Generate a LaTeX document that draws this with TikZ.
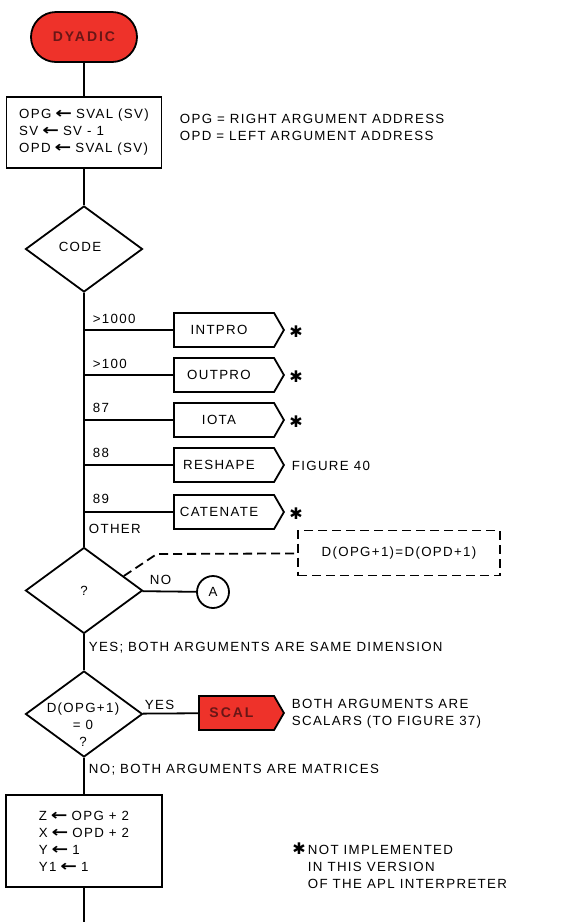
\documentclass[tikz,border=0pt]{standalone}
\usepackage{fontspec}
\usepackage{graphicx}
\setmainfont[LetterSpace=10]{Liberation Sans}
\newfontfamily\arrowfont{DejaVu Sans}
\usetikzlibrary{shapes.geometric,shapes.misc,shapes.symbols}
\definecolor{flagred}{RGB}{238,50,42}
\definecolor{inkred}{RGB}{105,22,22}
\newcommand{\asg}{\hspace{4pt}\scalebox{1.5}[1.15]{\arrowfont\bfseries ←}\hspace{4pt}}
\newcommand{\nimp}{{\arrowfont\fontsize{16}{16}\selectfont ✱}}

\begin{document}
\begin{tikzpicture}[x=1pt,y=-1pt,line width=1.8pt,
  every node/.style={font=\fontsize{13.3}{17}\selectfont,inner sep=0},
  term/.style={draw,rounded rectangle,fill=flagred,minimum width=106,minimum height=50},
  box/.style={draw,rectangle,align=left},
  decision/.style={draw,diamond,minimum width=117,minimum height=86},
  pent/.style={draw,signal,signal to=east,signal pointer angle=120,minimum width=110,minimum height=34,anchor=west,execute at begin node=\hspace*{-10pt}},
  redtag/.style={text=inkred,font=\fontsize{14}{16}\selectfont\bfseries\addfontfeature{LetterSpace=14}},
  lbl/.style={anchor=west,align=left}]
  \useasboundingbox (0,0) rectangle (581,922);
  % start
  \node[term,redtag] (dyadic) at (84,37) {DYADIC};
  % pop the two arguments
  \node[box,minimum width=155,minimum height=71] (init) at (84,132.5) {OPG\asg SVAL (SV)\\SV\asg SV - 1\\OPD\asg SVAL (SV)};
  \node[lbl] (addr) at (179,127) {OPG = RIGHT ARGUMENT ADDRESS\\OPD = LEFT ARGUMENT ADDRESS};
  \draw (dyadic) -- (init);
  % dispatch on code
  \node[decision] (code) at (84,249) {};
  \node at (80,247) {CODE};
  \draw (init) -- (code);
  \node[pent] (intpro) at (173,330) {INTPRO};
  \node[pent] (outpro) at (173,375) {OUTPRO};
  \node[pent] (iota) at (173,420) {IOTA};
  \node[pent] (reshape) at (173,465) {RESHAPE};
  \node[pent] (catenate) at (173,512) {CATENATE};
  \node (st1) at (296,332) {\nimp};
  \node (st2) at (296,377) {\nimp};
  \node (st3) at (296,422) {\nimp};
  \node[lbl] (fig40) at (291,466) {FIGURE 40};
  \node (st5) at (296,514) {\nimp};
  \draw (code) -- (code.south |- intpro.west) -- (intpro);
  \draw (code.south |- outpro.west) -- (outpro);
  \draw (code.south |- iota.west) -- (iota);
  \draw (code.south |- reshape.west) -- (reshape);
  \draw (code.south |- catenate.west) -- (catenate);
  \node[lbl] (c1) at (92,319) {>1000};
  \node[lbl] (c2) at (92,364) {>100};
  \node[lbl] (c3) at (92,408) {87};
  \node[lbl] (c4) at (92,453) {88};
  \node[lbl] (c5) at (92,499) {89};
  \node[lbl] (c6) at (88,529) {OTHER};
  % same dimension test
  \node[decision] (same) at (84,590.5) {};
  \node at (same) {?};
  \node[draw,circle,minimum size=32] (a) at (213,592) {A};
  \node[draw,dash pattern=on 9pt off 5pt,minimum width=202,minimum height=45] (cond) at (399,553) {D(OPG+1)=D(OPD+1)};
  \draw (code) -- (same);
  \draw (same) -- (a);
  \node[lbl] (no1) at (149,580) {NO};
  \draw[dash pattern=on 9pt off 5pt] (same.20) -- ++(33,-22) -- (cond);
  \node[lbl] (yes1) at (88,648) {YES; BOTH ARGUMENTS ARE SAME DIMENSION};
  % scalar test
  \node[decision] (dim) at (84,714) {};
  \node[align=center] at (83,725) {D(OPG+1)\\= 0\\?};
  \node[pent,fill=flagred,minimum width=85,redtag] (scal) at (198,713) {SCAL};
  \draw (same) -- (dim);
  \draw (dim) -- (scal);
  \node[lbl] (yes2) at (144,705) {YES};
  \node[lbl] (scalnote) at (291,714) {BOTH ARGUMENTS ARE\\SCALARS (TO FIGURE 37)};
  \node[lbl] (no2) at (88,770) {NO; BOTH ARGUMENTS ARE MATRICES};
  % matrix setup
  \node[box,minimum width=156,minimum height=92] (setup) at (84,841) {Z\asg OPG + 2\\X\asg OPD + 2\\Y\asg 1\\Y1\asg 1};
  \coordinate (out) at (84,922);
  \draw (dim) -- (setup);
  \draw (setup) -- (out);
  \node[lbl] (foot) at (307,866) {\llap{\nimp\,}NOT IMPLEMENTED\\IN THIS VERSION\\OF THE APL INTERPRETER};
\end{tikzpicture}
\end{document}
